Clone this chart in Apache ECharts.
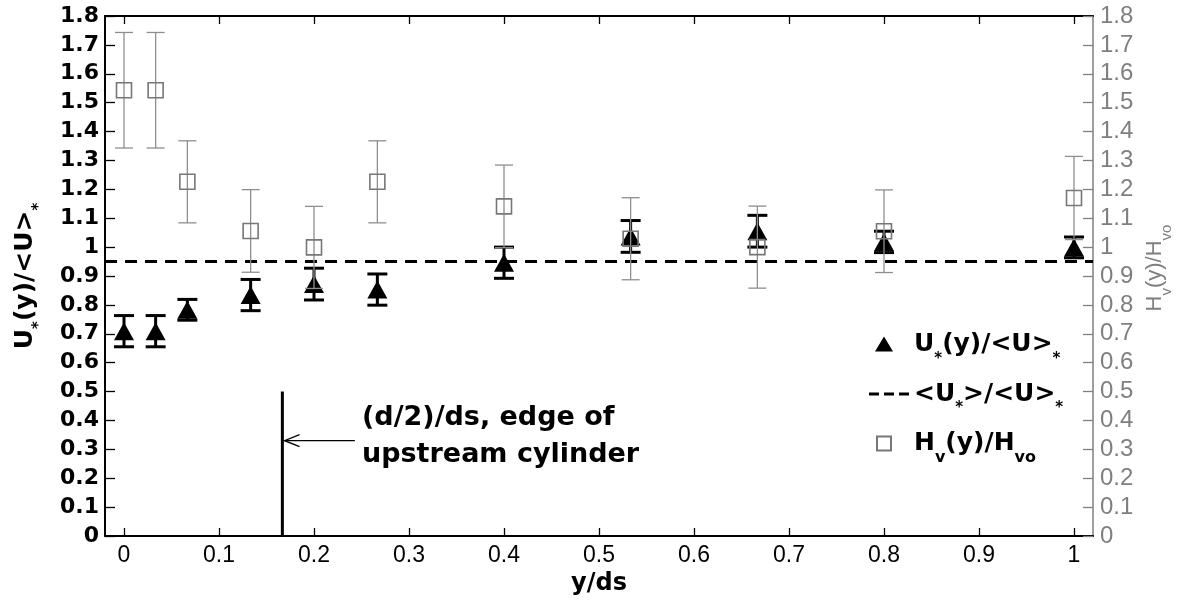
<!DOCTYPE html>
<html>
<head>
<meta charset="utf-8">
<script src="https://cdn.jsdelivr.net/npm/echarts@6/dist/echarts.min.js"></script>
<style>html,body{margin:0;padding:0;background:#fff}#chart{width:1187px;height:605px}</style>
</head>
<body>
<div id="chart"></div>
<script>
// ---- data ----
const xPos    = [0, 0.0333, 0.0667, 0.1333, 0.2, 0.2667, 0.4, 0.5333, 0.6667, 0.8, 1.0];
const uValues = [0.709, 0.709, 0.783, 0.834, 0.872, 0.853, 0.946, 1.037, 1.055, 1.018, 0.999];
const uErr    = [0.054, 0.054, 0.036, 0.054, 0.055, 0.054, 0.054, 0.055, 0.055, 0.037, 0.036];
const hValues = [1.543, 1.543, 1.226, 1.056, 0.999, 1.226, 1.141, 1.029, 1.000, 1.055, 1.170];
const hErr    = [0.200, 0.200, 0.142, 0.143, 0.142, 0.142, 0.143, 0.142, 0.142, 0.143, 0.144];
const meanX   = [-0.02, 1.02];
const meanValue = 0.95;
const xTicks  = [0, 0.1, 0.2, 0.3, 0.4, 0.5, 0.6, 0.7, 0.8, 0.9, 1];
const edgeX   = 0.1667;          // (d/2)/ds
const edgeTop = 0.5;
const arrowFrom = [0.243, 0.33];
const arrowTo   = [0.169, 0.33];
const noteAt    = [0.2505, 0.344];
const noteText  = '(d/2)/ds, edge of\nupstream cylinder';

const BOLD = 'DejaVu Sans';
const NORM = 'Liberation Sans';
const GRAY = '#7f7f7f';
const EGRAY = '#8e8e8e';

const richBold = {
  b: {fontFamily: BOLD, fontWeight: 'bold', fontSize: 25, lineHeight: 44, color: '#000'},
  s: {fontFamily: BOLD, fontWeight: 'bold', fontSize: 15, lineHeight: 14, verticalAlign: 'bottom', color: '#000'},
  v: {fontFamily: BOLD, fontWeight: 'bold', fontSize: 16, lineHeight: 18, verticalAlign: 'bottom', color: '#000'}
};
const richGray = {
  n: {fontFamily: NORM, fontSize: 22, lineHeight: 38, color: GRAY},
  nv: {fontFamily: NORM, fontSize: 15, lineHeight: 16, verticalAlign: 'bottom', color: GRAY}
};

const uData = xPos.map((x, i) => [x, uValues[i]]);
const hData = xPos.map((x, i) => [x, hValues[i]]);
const uErrData = xPos.map((x, i) => [x, uValues[i] - uErr[i], uValues[i] + uErr[i]]);
const hErrData = xPos.map((x, i) => [x, hValues[i] - hErr[i], hValues[i] + hErr[i]]);

function errRender(color, lw, cap) {
  return function (params, api) {
    const x = api.value(0);
    const lo = api.coord([x, api.value(1)]);
    const hi = api.coord([x, api.value(2)]);
    const st = {stroke: color, lineWidth: lw};
    return {type: 'group', children: [
      {type: 'line', shape: {x1: lo[0], y1: lo[1], x2: hi[0], y2: hi[1]}, style: st},
      {type: 'line', shape: {x1: lo[0] - cap, y1: lo[1], x2: lo[0] + cap, y2: lo[1]}, style: st},
      {type: 'line', shape: {x1: hi[0] - cap, y1: hi[1], x2: hi[0] + cap, y2: hi[1]}, style: st}
    ]};
  };
}

const chart = echarts.init(document.getElementById('chart'), null, {renderer: 'canvas'});
const xCommon = {
  type: 'value', min: -0.02, max: 1.02,
  splitLine: {show: false},
  axisLine: {show: true, onZero: false, lineStyle: {color: '#000', width: 2}},
  axisTick: {show: true, inside: true, length: 8, customValues: xTicks, lineStyle: {color: '#000', width: 1.3}}
};
chart.setOption({
  animation: false,
  backgroundColor: '#fff',
  grid: {left: 105, right: 94, top: 16, bottom: 69, containLabel: false, outerBoundsMode: 'none'},
  legend: {
    orient: 'vertical', left: 857, top: 327,
    itemWidth: 46, itemHeight: 16, itemGap: 15,
    data: [
      {name: 'U', icon: 'path://M0 0M46 16M12 15L21 0L30 15Z'},
      {name: 'mean', icon: 'path://M0 0M46 16M6 6.5H16V9.5H6Z M21 6.5H31V9.5H21Z M36 6.5H46V9.5H36Z'},
      {name: 'H', icon: 'path://M0 0M46 16M14 1H28V15H14Z'}
    ],
    formatter: function (name) {
      if (name === 'U') return '{b|U}{s|*}{b|(y)/<U>}{s|*}';
      if (name === 'mean') return '{b|<U}{s|*}{b|>/<U>}{s|*}';
      return '{b|H}{v|v}{b|(y)/H}{v|vo}';
    },
    textStyle: {rich: richBold}
  },
  xAxis: [
    Object.assign({}, xCommon, {
      position: 'bottom',
      name: 'y/ds', nameLocation: 'middle', nameGap: 30,
      nameTextStyle: {fontFamily: BOLD, fontWeight: 'bold', fontSize: 24, color: '#000'},
      axisLabel: {show: true, customValues: xTicks, margin: 8, fontFamily: NORM, fontSize: 23, color: '#000',
        formatter: v => String(Math.round(v * 10) / 10)}
    }),
    Object.assign({}, xCommon, {position: 'top', axisLabel: {show: false}})
  ],
  yAxis: [
    {
      type: 'value', min: 0, max: 1.8, interval: 0.1, position: 'left',
      splitLine: {show: false},
      axisLine: {show: true, onZero: false, lineStyle: {color: '#000', width: 2}},
      axisTick: {show: true, inside: true, length: 10, lineStyle: {color: '#000', width: 1.3}},
      axisLabel: {margin: 6, fontFamily: BOLD, fontWeight: 'bold', fontSize: 22, color: '#000',
        formatter: v => String(Math.round(v * 10) / 10)},
      name: '{b|U}{s|*}{b|(y)/<U>}{s|*}', nameLocation: 'middle', nameGap: 58,
      nameTextStyle: {rich: richBold}
    },
    {
      type: 'value', min: 0, max: 1.8, interval: 0.1, position: 'right',
      splitLine: {show: false},
      axisLine: {show: true, onZero: false, lineStyle: {color: GRAY, width: 1.5}},
      axisTick: {show: true, inside: true, length: 10, lineStyle: {color: GRAY, width: 1.3}},
      axisLabel: {margin: 7, fontFamily: NORM, fontSize: 24, color: GRAY,
        formatter: v => String(Math.round(v * 10) / 10)},
      name: '{n|H}{nv|v}{n|(y)/H}{nv|vo}', nameLocation: 'middle', nameGap: 34,
      nameTextStyle: {rich: richGray, padding: [0, 0, 0, 16]}
    }
  ],
  series: [
    {
      name: 'mean', type: 'custom', xAxisIndex: 0, yAxisIndex: 0,
      data: [[meanX[0], meanValue, meanX[1], meanValue]],
      itemStyle: {color: '#000'},
      renderItem: function (params, api) {
        const a = api.coord([api.value(0), api.value(1)]);
        const b = api.coord([api.value(2), api.value(3)]);
        return {type: 'line', shape: {x1: a[0], y1: a[1], x2: b[0], y2: b[1]},
          style: {stroke: '#000', lineWidth: 3, lineDash: [12, 8]}};
      }, z: 2
    },
    {
      name: 'edge', type: 'line', data: [[edgeX, 0], [edgeX, edgeTop]], symbol: 'none',
      lineStyle: {color: '#000', width: 3}, z: 2
    },
    {
      name: 'arrow', type: 'custom', data: [[arrowFrom[0], arrowFrom[1], arrowTo[0], arrowTo[1]]],
      renderItem: function (params, api) {
        const a = api.coord([api.value(0), api.value(1)]);
        const b = api.coord([api.value(2), api.value(3)]);
        const st = {stroke: '#000', lineWidth: 1.3, fill: null};
        return {type: 'group', children: [
          {type: 'line', shape: {x1: a[0], y1: a[1], x2: b[0], y2: b[1]}, style: st},
          {type: 'polyline', shape: {points: [[b[0] + 15, b[1] - 6], [b[0], b[1]], [b[0] + 15, b[1] + 6]]}, style: st}
        ]};
      }, z: 3
    },
    {
      name: 'note', type: 'custom', data: [[noteAt[0], noteAt[1]]],
      renderItem: function (params, api) {
        const p = api.coord([api.value(0), api.value(1)]);
        return {type: 'text', x: p[0], y: p[1], style: {
          text: noteText, fontFamily: BOLD, fontWeight: 'bold', fontSize: 27, lineHeight: 37,
          fill: '#000', align: 'left', verticalAlign: 'middle'}};
      }, z: 3
    },
    {
      name: 'Uerr', type: 'custom', yAxisIndex: 0, data: uErrData,
      encode: {x: 0, y: [1, 2]}, renderItem: errRender('#000', 3, 10), z: 4
    },
    {
      name: 'U', type: 'scatter', yAxisIndex: 0, data: uData,
      symbol: 'triangle', symbolSize: [20, 18],
      itemStyle: {color: '#000', opacity: 1}, z: 5
    },
    {
      name: 'Herr', type: 'custom', yAxisIndex: 1, data: hErrData,
      encode: {x: 0, y: [1, 2]}, renderItem: errRender(EGRAY, 1.3, 9), z: 6
    },
    {
      name: 'H', type: 'scatter', yAxisIndex: 1, data: hData,
      symbol: 'rect', symbolSize: 15,
      itemStyle: {color: 'rgba(255,255,255,0)', borderColor: '#777', borderWidth: 1.6, opacity: 1}, z: 7
    }
  ]
});
</script>
</body>
</html>
